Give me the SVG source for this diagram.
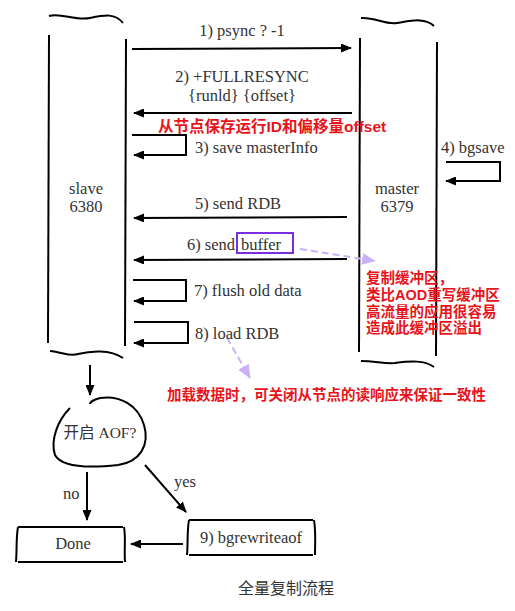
<svg xmlns="http://www.w3.org/2000/svg" width="515" height="611" viewBox="0 0 515 611">
<defs>
<marker id="ah" markerWidth="11" markerHeight="9" refX="10" refY="4.5" orient="auto" markerUnits="userSpaceOnUse"><path d="M0,0 L11,4.5 L0,9 Z" fill="#000"/></marker>
<marker id="ahp" markerWidth="14" markerHeight="12" refX="13" refY="6" orient="auto" markerUnits="userSpaceOnUse"><path d="M0,0 L14,6 L0,12 Z" fill="#cbb2f6"/></marker>
<style>
.ln{stroke:#000;stroke-width:2;fill:none}
.ar{stroke:#000;stroke-width:2;fill:none;marker-end:url(#ah)}
.t{font-family:"Liberation Serif",serif;font-size:16.5px;fill:#333}
.r{font-family:"Liberation Sans","Noto Sans CJK SC",sans-serif;font-size:14.5px;font-weight:bold;fill:#e8141c}
.c{font-family:"Liberation Serif","Noto Sans CJK SC",serif;font-size:15.5px;fill:#333}
.d{stroke:#cbb2f6;stroke-width:2;stroke-dasharray:7,4;fill:none;marker-end:url(#ahp)}
</style>
</defs>
<rect width="515" height="611" fill="#fff"/>
<g id="slave">
<path class="ln" d="M49,16 C60,12 75,21 90,18 C105,15 115,13 123,23"/>
<path class="ln" d="M49,35 L48,343"/>
<path class="ln" d="M126,39 L125,346"/>
<path class="ln" d="M50,351 C62,352 70,357 78,354 C90,351 110,349 123,358"/>
<text class="t" x="86" y="194" text-anchor="middle">slave</text>
<text class="t" x="86" y="212" text-anchor="middle">6380</text>
</g>
<g id="master">
<path class="ln" d="M361,18 C375,17 385,25 397,23 C410,21 425,17 434,26"/>
<path class="ln" d="M360,38 L359,352"/>
<path class="ln" d="M437,42 L436,356"/>
<path class="ln" d="M361,361 C375,361 385,364 395,363 C410,361 425,360 434,367"/>
<text class="t" x="397" y="194" text-anchor="middle">master</text>
<text class="t" x="397" y="212" text-anchor="middle">6379</text>
</g>
<g id="connectors">
<path class="ar" d="M132,49 L351,48"/>
<path class="ar" d="M352,113 L134,113"/>
<path class="ar" d="M132,135 L186,135 L186,155 L134,155"/>
<path class="ar" d="M446,162 L500,162 L500,181 L446,181"/>
<path class="ar" d="M347,217 L134,218"/>
<path class="ar" d="M347,259 L134,260"/>
<path class="ar" d="M133,280 L186,280 L186,301 L134,301"/>
<path class="ar" d="M134,322 L188,322 L188,343 L134,343"/>
<path class="d" d="M300,249 L375,261"/>
<path class="d" d="M227,338 L250,378"/>
<path class="ar" d="M90,365 L90,395"/>
<path class="ar" d="M87,472 L87,520"/>
<path class="ar" d="M145,465 L186,512"/>
<path class="ar" d="M183,544 L131,544"/>
</g>
<g id="labels">
<text class="t" x="242" y="36" text-anchor="middle">1) psync ? -1</text>
<text class="t" x="242" y="82" text-anchor="middle">2) +FULLRESYNC</text>
<text class="t" x="242" y="101" text-anchor="middle">{runld} {offset}</text>
<text class="r" x="158" y="132" style="font-size:15.5px">从节点保存运行ID和偏移量offset</text>
<text class="t" x="195" y="153">3) save masterInfo</text>
<text class="t" x="441" y="153">4) bgsave</text>
<text class="t" x="238" y="209" text-anchor="middle">5) send RDB</text>
<text class="t" x="235" y="250" text-anchor="end">6) send</text>
<text class="t" x="241" y="250">buffer</text>
<rect x="237" y="233" width="56" height="20" fill="none" stroke="#7b2de0" stroke-width="2"/>
<text class="r" x="366" y="283">复制缓冲区，</text>
<text class="r" x="366" y="300">类比AOD重写缓冲区</text>
<text class="r" x="366" y="317">高流量的应用很容易</text>
<text class="r" x="366" y="333">造成此缓冲区溢出</text>
<text class="t" x="194" y="296">7) flush old data</text>
<text class="t" x="195" y="339">8) load RDB</text>
<text class="r" x="167" y="400">加载数据时，可关闭从节点的读响应来保证一致性</text>
<text class="t" x="63" y="499">no</text>
<text class="t" x="174" y="487">yes</text>
</g>
<g id="decision">
<path class="ln" d="M70,408 C58,420 50,440 55,455 C62,468 90,468 118,465 C140,462 150,445 144,425 C138,405 120,395 100,398 C92,400 90,403 90,404"/>
<text class="c" x="100" y="438" text-anchor="middle">开启 AOF?</text>
</g>
<g id="done">
<path class="ln" d="M18,527 L123,527 M18,562 L123,562 M18,527 C16,538 17,550 16,562 M124,527 C126,538 124,550 125,562"/>
<text class="t" x="73" y="549" text-anchor="middle">Done</text>
</g>
<g id="bgrewrite">
<path class="ln" d="M189,520 L313,520 M189,555 L313,555 M189,520 C187,530 188,545 187,555 M314,520 C316,532 315,545 315,555"/>
<text class="t" x="251" y="543" text-anchor="middle">9) bgrewriteaof</text>
</g>
<text class="c" x="286" y="594" text-anchor="middle" style="font-size:16px">全量复制流程</text>
</svg>
